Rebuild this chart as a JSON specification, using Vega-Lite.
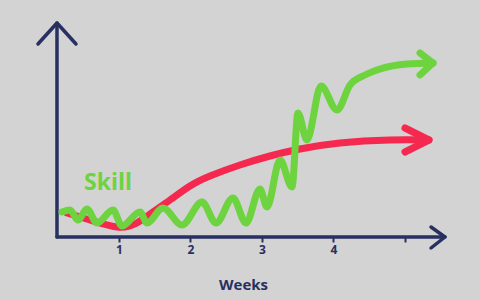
{
  "$schema": "https://vega.github.io/schema/vega-lite/v6.json",
  "width": 480,
  "height": 300,
  "padding": 0,
  "autosize": {"type": "none"},
  "background": "#d3d3d3",
  "config": {"view": {"stroke": null}},
  "datasets": {
    "axes": [
      {"seg": "y", "i": 0, "w": 0.133, "v": 0},
      {"seg": "y", "i": 1, "w": 0.133, "v": 214},
      {"seg": "x", "i": 0, "w": 0.133, "v": 0},
      {"seg": "x", "i": 1, "w": 5.559, "v": 0},
      {"seg": "ya", "i": 0, "w": -0.133, "v": 193},
      {"seg": "ya", "i": 1, "w": 0.133, "v": 214},
      {"seg": "ya", "i": 2, "w": 0.399, "v": 193},
      {"seg": "xa", "i": 0, "w": 5.364, "v": 10},
      {"seg": "xa", "i": 1, "w": 5.559, "v": 0},
      {"seg": "xa", "i": 2, "w": 5.364, "v": -11}
    ],
    "red": [
      {"w": 0.273, "v": 24},
      {"w": 0.594, "v": 17},
      {"w": 0.972, "v": 10},
      {"w": 1.224, "v": 13},
      {"w": 1.434, "v": 23},
      {"w": 1.713, "v": 37},
      {"w": 1.993, "v": 51},
      {"w": 2.273, "v": 61},
      {"w": 2.692, "v": 72},
      {"w": 3.112, "v": 81},
      {"w": 3.531, "v": 88},
      {"w": 4.091, "v": 94},
      {"w": 4.79, "v": 97},
      {"w": 5.336, "v": 97}
    ],
    "redArrow": [
      {"i": 0, "w": 5.0, "v": 109},
      {"i": 1, "w": 5.336, "v": 97},
      {"i": 2, "w": 5.0, "v": 85}
    ],
    "green": [
      {"w": 0.203, "v": 25},
      {"w": 0.315, "v": 27},
      {"w": 0.427, "v": 17},
      {"w": 0.552, "v": 28},
      {"w": 0.692, "v": 14},
      {"w": 0.916, "v": 27},
      {"w": 1.042, "v": 11},
      {"w": 1.294, "v": 25},
      {"w": 1.392, "v": 14},
      {"w": 1.615, "v": 29},
      {"w": 1.881, "v": 12},
      {"w": 2.161, "v": 35},
      {"w": 2.357, "v": 14},
      {"w": 2.594, "v": 39},
      {"w": 2.776, "v": 14},
      {"w": 2.972, "v": 48},
      {"w": 3.07, "v": 30},
      {"w": 3.252, "v": 77},
      {"w": 3.42, "v": 50},
      {"w": 3.503, "v": 124},
      {"w": 3.629, "v": 97},
      {"w": 3.825, "v": 151},
      {"w": 4.049, "v": 127},
      {"w": 4.231, "v": 152},
      {"w": 4.441, "v": 162},
      {"w": 4.65, "v": 168},
      {"w": 5.028, "v": 173},
      {"w": 5.392, "v": 174}
    ],
    "greenArrow": [
      {"i": 0, "w": 5.21, "v": 184},
      {"i": 1, "w": 5.392, "v": 174},
      {"i": 2, "w": 5.21, "v": 162}
    ],
    "labels": [
      {"w": 0.846, "v": 54, "label": "Skill"}
    ]
  },
  "encoding": {
    "x": {
      "field": "w",
      "type": "quantitative",
      "scale": {"domain": [-0.664, 6.049], "nice": false, "zero": false},
      "axis": {
        "title": "Weeks",
        "offset": -63,
        "domain": false,
        "grid": false,
        "values": [1, 2, 3, 4, 5],
        "labelExpr": "datum.value == 5 ? '' : datum.label",
        "tickSize": 5,
        "tickWidth": 2,
        "tickColor": "#283061",
        "labelColor": "#283061",
        "labelFont": "Open Sans",
        "labelFontSize": 12,
        "labelFontWeight": "bold",
        "labelPadding": 2,
        "titleColor": "#283061",
        "titleFont": "Open Sans",
        "titleFontSize": 15,
        "titleFontWeight": "bold",
        "titlePadding": 22,
        "titleX": 243
      }
    },
    "y": {
      "field": "v",
      "type": "quantitative",
      "scale": {"domain": [-63, 237], "nice": false, "zero": false},
      "axis": null
    }
  },
  "layer": [
    {
      "data": {"name": "axes"},
      "mark": {"type": "line", "color": "#283061", "strokeWidth": 3.5, "strokeCap": "round", "strokeJoin": "round"},
      "encoding": {
        "detail": {"field": "seg", "type": "nominal"},
        "order": {"field": "i", "type": "quantitative"}
      }
    },
    {
      "data": {"name": "red"},
      "mark": {"type": "line", "color": "#f5294f", "strokeWidth": 7, "strokeCap": "round", "interpolate": "natural"},
      "encoding": {}
    },
    {
      "data": {"name": "redArrow"},
      "mark": {"type": "line", "color": "#f5294f", "strokeWidth": 7, "strokeCap": "round", "strokeJoin": "round"},
      "encoding": {"order": {"field": "i", "type": "quantitative"}}
    },
    {
      "data": {"name": "green"},
      "mark": {"type": "line", "color": "#6dd33f", "strokeWidth": 7, "strokeCap": "round", "strokeJoin": "round", "interpolate": "monotone"},
      "encoding": {}
    },
    {
      "data": {"name": "greenArrow"},
      "mark": {"type": "line", "color": "#6dd33f", "strokeWidth": 7, "strokeCap": "round", "strokeJoin": "round"},
      "encoding": {"order": {"field": "i", "type": "quantitative"}}
    },
    {
      "data": {"name": "labels"},
      "mark": {"type": "text", "color": "#6dd33f", "font": "Open Sans", "fontSize": 23, "fontWeight": "bold", "align": "center", "baseline": "middle"},
      "encoding": {"text": {"field": "label"}}
    }
  ]
}
